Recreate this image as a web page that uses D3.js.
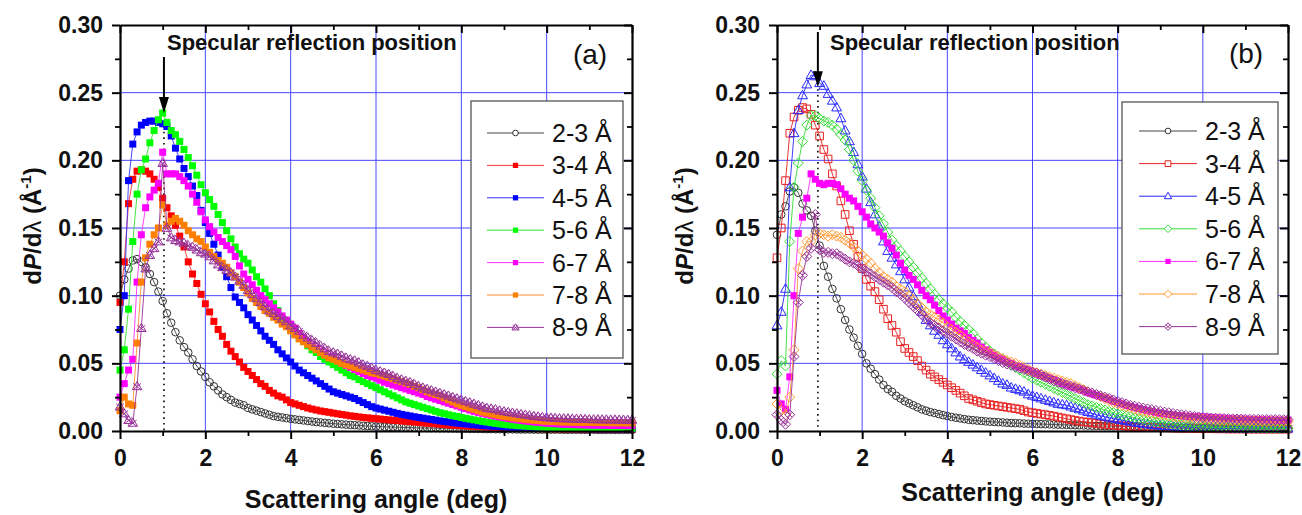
<!DOCTYPE html>
<html><head><meta charset="utf-8">
<script src="https://cdn.jsdelivr.net/npm/d3@7"></script>
<style>
body{margin:0;background:#fff;}
svg{display:block;}
text{font-family:Arial,"Liberation Sans",sans-serif;}
</style>
</head><body>
<svg id="chart" width="1302" height="515"></svg>
<script>
// ---------------- DATA ----------------
const seriesLabels = ["2-3 Å","3-4 Å","4-5 Å","5-6 Å","6-7 Å","7-8 Å","8-9 Å"];
const xTicks = [0,2,4,6,8,10,12];
const xMinorTicks = [1,3,5,7,9,11];
const yTicks = [0,0.05,0.10,0.15,0.20,0.25,0.30];
const yMinorTicks = [0.025,0.075,0.125,0.175,0.225,0.275];
const panelTags = ["(a)","(b)"];
const annotationText = "Specular reflection position";
const specularAngle = [1.03, 0.96];
const xTitle = "Scattering angle (deg)";
// scattering angle samples (deg): 0.0, 0.1, ... 12.0
const angles = d3.range(121).map(i => Math.round(i) / 10);
// dP/dλ values in units of 1e-3 Å^-1, one per angle sample
// ---- panel (a)
const a23 = [100,112,120,126,127,125,121,116,110,103, 96,87,80,73,67,62,58,53,48,44, 40,36,33,30,27,25,23,21,20,19, 17,16,15,14,13,12,11,10.5,10,9.5,
 9,8.6,8.2,7.8,7.4,7,6.6,6.3,6,5.7, 5.4,5.2,4.9,4.7,4.5,4.3,4.1,3.9,3.7,3.5, 3.3,3.2,3.1,3,2.9,2.8,2.7,2.6,2.5,2.4, 2.3,2.2,2.2,2.1,2.1,2,2,1.9,1.9,1.8,
 1.7,1.7,1.6,1.6,1.5,1.5,1.4,1.4,1.3,1.3, 1.2,1.2,1.2,1.1,1.1,1.1,1.1,1,1,1, 1,1,1,1,0.9,0.9,0.9,0.9,0.9,0.9, 0.9,0.9,0.8,0.8,0.8,0.8,0.8,0.8,0.8,0.8,0.8];
const a34 = [95,125,168,186,192,193,192,190,186,180, 172,165,159,152,144,136,125,116,109,101, 94,88,81,75,70,64,59,55,51,47, 44,41,38,35,33,30,28,26,25,23,
 21,20,19,18,17,16.2,15.5,14.8,14.3,13.8, 13.2,12.7,12.2,11.7,11.2,10.8,10.4,10,9.7,9.4, 9.1,8.8,8.5,8.2,8,7.7,7.4,7.1,6.9,6.6, 6.3,6,5.8,5.5,5.3,5,4.8,4.5,4.3,4.1,
 3.9,3.7,3.5,3.3,3.2,3,2.9,2.7,2.6,2.5, 2.4,2.3,2.2,2.1,2,1.9,1.9,1.8,1.7,1.7, 1.6,1.6,1.5,1.5,1.4,1.4,1.4,1.3,1.3,1.3, 1.3,1.2,1.2,1.2,1.2,1.2,1.2,1.2,1.2,1.2,1.2];
const a45 = [75,100,185,212,221,226,228,229,229,228, 227,225,218,209,201,194,188,181,174,163, 154,146,138,130,121,114,106,99,95,91, 86,82,78,74,70,67,64,60,57,54,
 51,48,45,43,41,39,37,35,33,31, 29,28,27,26,25,24,22.5,21,19.5,18, 17,16.2,15.4,14.6,13.8,13,12.3,11.7,11.1,10.5, 10,9.5,9,8.5,8,7.5,7,6.6,6.2,5.8,
 5.5,5.2,4.9,4.6,4.3,4,3.8,3.6,3.4,3.2, 3,2.9,2.8,2.7,2.6,2.5,2.4,2.3,2.2,2.1, 2,2,1.9,1.9,1.8,1.8,1.8,1.7,1.7,1.7, 1.7,1.6,1.6,1.6,1.6,1.6,1.6,1.6,1.6,1.6,1.6];
const a56 = [45,60,90,140,175,193,201,213,222,230, 235,228,222,219,214,208,202,196,189,182, 176,171,166,160,154,148,142,136,131,127, 124,119,114,110,105,100,94,89,83,78,
 75,72,69,66,63,60,58,55,53,51, 49,47,45,43,41,40,38,36.5,35,33.5, 32,30.5,29,27.5,26,24.5,23,21.5,20.5,19.5, 18.5,17.5,16.5,15.5,14.5,13.5,12.8,12,11.3,10.7,
 10,9.4,8.8,8.2,7.6,7.1,6.6,6.1,5.7,5.3, 4.9,4.6,4.3,4,3.8,3.6,3.4,3.2,3,2.8, 2.7,2.6,2.5,2.4,2.3,2.3,2.2,2.2,2.1,2.1, 2,2,2,2,2,2,2,2,2,2,2];
const a67 = [25,35,45,53,110,145,165,173,178,183, 206,190,190,190,188,185,181,175,169,162, 156,151,147,143,140,137,134,129,122,116, 112,108,104,100,97,94,91,88,85,82,
 79,76,72,69,66,63,61,59,57,55, 54,52,50,48.5,47,45.5,44,42.5,41,40, 39,37.5,36,35,34,33,32,31,30,29, 28,27,25.5,24.5,23.5,22.5,21.5,20.5,19.5,18.5,
 17.5,16.5,15.5,14.5,13.7,13,12.3,11.6,11,10.4, 9.8,9.2,8.7,8.2,7.8,7.4,7,6.7,6.4,6.1, 5.8,5.6,5.4,5.2,5,4.9,4.8,4.7,4.6,4.5, 4.4,4.3,4.3,4.2,4.2,4.1,4.1,4.1,4,4,4];
const a78 = [15,25,20,19,65,110,128,138,145,150, 167,152,155,157,155,152,148,145,142,140, 136,132,129,126,124,121,117,114,110,106, 102,98,95,92,89,87,84,82,79,77,
 74,71,68,66,64,62,60,58,56,54, 53,51.5,50,49,48,47,46,45,44,43, 42.5,41.5,40.5,39.5,38.5,37.5,36.5,35.5,34.5,33, 32,30.5,29,28,27,26,24.5,23,21.5,20,
 19,18,17,16,15,14,13.3,12.6,12,11.4, 10.8,10.3,9.8,9.4,9,8.6,8.3,8,7.7,7.4, 7.2,7,6.9,6.8,6.7,6.6,6.5,6.5,6.4,6.4, 6.3,6.3,6.2,6.2,6.2,6.1,6.1,6.1,6,6,6];
const a89 = [18,13,8,6,33,76,120,130,135,140, 198,150,143,141,140,139,137,136,134,132, 131,129,126,123,121,119,117,114,111,108, 104,101,98,95,92,89,87,85,83,81,
 78,76,74,71,69,67,65,63,61,59, 58,57,55.5,54,53,52,50.5,49,48,46.5, 45,44,43,42,40.5,39,38,37,36,34.5, 33,32,31,30,29,28,27,26,25,24,
 23,22,21,20,19,18,17,16.5,16,15, 14.5,14,13.5,13,12.5,12,11.5,11,10.7,10.3, 10,9.8,9.6,9.4,9.3,9.2,9.1,9,8.9,8.8, 8.7,8.6,8.6,8.5,8.5,8.4,8.4,8.3,8.3,8.2,8.2];
// ---- panel (b)
const b23 = [145,160,166,177,180,176,168,163,159,148, 137,122,114,105,98,90,82,75,69,63, 57,50,46,42,38,34,31,29,26,24, 22,20.5,19,17.5,16,15,14,13.3,12.5,11.7,
 11,10.4,9.8,9.3,8.8,8.3,8,7.7,7.4,7.1, 6.9,6.7,6.5,6.3,6.1,5.9,5.8,5.7,5.5,5.4, 5.3,5.2,5.1,5,4.9,4.8,4.7,4.6,4.5,4.4, 4.3,4.2,4.1,4,3.9,3.8,3.7,3.6,3.6,3.5,
 3.5,3.4,3.3,3.3,3.2,3.1,3.1,3,3,2.9, 2.8,2.8,2.7,2.6,2.6,2.5,2.4,2.4,2.3,2.2, 2.1,2.1,2,2,1.9,1.9,1.8,1.8,1.7,1.7, 1.7,1.6,1.6,1.6,1.5,1.5,1.5,1.5,1.5,1.5,1.5];
const b34 = [128,150,185,220,232,237,239,238,234,226, 218,208,201,190,181,170,160,148,138,129, 120,112,107,103,97,90,83,78,73,66, 61,58,55,52,48,45,42,40,38,36,
 34,32,30,28,26,24,23,22,21,20, 19.5,19,18.5,18,17.5,17,16.5,16,15,14, 13.5,13,12.5,12,11.5,11,10.3,9.6,9,8.4, 7.8,7.3,6.8,6.4,6,5.6,5.2,4.9,4.6,4.3,
 4,3.8,3.6,3.4,3.2,3,2.9,2.8,2.7,2.6, 2.5,2.4,2.3,2.2,2.1,2,2,1.9,1.9,1.8, 1.8,1.7,1.7,1.6,1.6,1.6,1.5,1.5,1.5,1.5, 1.5,1.4,1.4,1.4,1.4,1.4,1.4,1.4,1.4,1.4,1.4];
const b45 = [78,88,105,180,220,237,248,256,263,262, 257,255,249,244,239,231,222,214,206,197, 188,179,169,160,151,140,133,128,123,118, 112,106,99.5,94,88,82,78,74,71,67,
 64,61,58,55,53,51,49,47,45,43, 41,39,37,35,34,32,31,30,29,27, 26,25,24,23,22,21,20,19.5,19,18, 17,16,15,14,13,12,11.2,10.5,9.8,9.2,
 8.6,8,7.4,6.8,6.3,5.8,5.3,4.9,4.5,4.2, 3.9,3.7,3.5,3.3,3.1,3,2.8,2.7,2.5,2.4, 2.3,2.2,2.1,2,2,1.9,1.9,1.8,1.8,1.8, 1.7,1.7,1.7,1.7,1.7,1.7,1.7,1.7,1.7,1.7,1.7];
const b56 = [42,52,48,140,180,198,214,226,233,233, 231,229,228,226,223,219,215,208,200,192, 185,178,172,165,159,153,147,141,137,133, 129,125,121,117,113,109,105,101,97,94,
 91,88,84,81,78,75,72,68,65,62, 59,57,55,53,51,49,47,45,43,41, 39,37.5,36,34.5,33,31.5,30,28.5,27,25.5, 24,22.5,21,19.5,18.5,17.5,16.5,15.5,14.5,13.5,
 12.8,12,11.2,10.5,9.8,9.1,8.5,7.9,7.3,6.8, 6.3,5.9,5.5,5.1,4.7,4.4,4.1,3.8,3.5,3.3, 3.1,3,2.9,2.8,2.7,2.6,2.5,2.5,2.4,2.4, 2.3,2.3,2.2,2.2,2.2,2.1,2.1,2.1,2,2,2];
const b67 = [30,20,16,40,100,146,158,172,190,186, 183,182,183,183,182,179,175,172,170,166, 162,158,153,150,147,144,139,135,130,124, 119,115,112,108,104,100,97,93,89,85,
 82,79,76,74,72,69,67,65,62,60, 58,56,54,53,51,50,48,47,46,45, 44,42.5,41,40,39,38,36.5,35,34,33, 32,31,30,28.5,27.5,26.5,25.5,24.5,23.5,22,
 21,20,19,18.2,17.4,16.6,15.8,15,14.3,13.6, 13,12.6,12.2,11.8,11.5,11.2,11,10.8,10.6,10.5, 10.4,10.2,10,9.8,9.6,9.4,9.2,9,8.9,8.8, 8.7,8.6,8.5,8.4,8.3,8.2,8.1,8,8,8,8];
const b78 = [20,15,12,25,60,120,133,140,140,145, 146,145,144,145,144,143,141,139,136,133, 130,127,124,120,117,114,112,110,107,105, 103,100,97,94,91,88,86,84,82,80,
 77,75,73,71,68,66,64,62,60,59, 58,56.5,55,53.5,52,51,50,48.5,47,45.5, 44,43,42,41,40,39,38,37,36,35, 33.5,32,30.5,29,28,27,25.5,24,22.5,21,
 20,19,18,17,16,15,14.3,13.6,13,12.5, 12,11.5,11,10.6,10.2,9.9,9.6,9.4,9.2,9, 8.8,8.6,8.4,8.2,8,7.9,7.8,7.7,7.6,7.5, 7.4,7.3,7.3,7.2,7.2,7.1,7.1,7,7,7,7];
const b89 = [12,8,5,12,55,95,115,129,135,160, 134,132,132,131,131,129,127,125,124,122, 120,118,116,114,112,110,108,106,103,101, 98,95,92,89,86,83,80,78,76,74,
 72,70,68,66,64,62.5,61,59,57.5,56, 55,53.5,52,50.5,49.5,48.5,47.5,46.5,45.5,44.5, 43.5,42.5,41.5,40,38.5,37,36,35,34,33, 32,31,30,29,28,27,26,25,24,23,
 22,21,20,19,18.3,17.6,17,16.4,15.8,15.2, 14.6,14,13.5,13,12.5,12,11.6,11.2,10.8,10.4, 10,9.8,9.6,9.4,9.3,9.2,9.1,9,8.9,8.8, 8.7,8.7,8.6,8.6,8.5,8.5,8.5,8.4,8.4,8.4,8.4];
const UNIT = 1e-3;

// ---------------- STYLE / LAYOUT ----------------
const stylesA = [
  {shape:"circle", stroke:"#333", fill:"none", line:"#444"},
  {shape:"square", stroke:"none", fill:"#ff0000", line:"#ff3030"},
  {shape:"square", stroke:"none", fill:"#0000ff", line:"#3030ff"},
  {shape:"square", stroke:"none", fill:"#00ff00", line:"#30e030"},
  {shape:"square", stroke:"none", fill:"#ff00ff", line:"#ff30ff"},
  {shape:"square", stroke:"none", fill:"#ff8000", line:"#ff9030"},
  {shape:"xtri", stroke:"#993399", fill:"none", line:"#993399"}
];
const stylesB = [
  {shape:"circle", stroke:"#333", fill:"none", line:"#444"},
  {shape:"osquare", stroke:"#e82020", fill:"none", line:"#e82020"},
  {shape:"triangle", stroke:"#2828ff", fill:"none", line:"#2828ff"},
  {shape:"diamond", stroke:"#33dd33", fill:"none", line:"#33dd33"},
  {shape:"square", stroke:"none", fill:"#ff00ff", line:"#ff30ff"},
  {shape:"diamond", stroke:"#ff9933", fill:"none", line:"#ff9933"},
  {shape:"xdiamond", stroke:"#993399", fill:"none", line:"#993399"}
];

const panels = [
  {left:120, right:632, top:25, bottom:431, series:[a23,a34,a45,a56,a67,a78,a89], styles:stylesA,
   legend:{x:471, y:101, w:152, h:257, l0:487, l1:544, tx:552, r0:133, dr:32.4},
   arrowTop:57, arrowTip:0.235, noteX:167, tagX:590, tagY:64, yLabX:41, xLabY:508},
  {left:777, right:1288, top:25, bottom:431, series:[b23,b34,b45,b56,b67,b78,b89], styles:stylesB,
   legend:{x:1122, y:102, w:156, h:252, l0:1139, l1:1197, tx:1205, r0:131, dr:32.6},
   arrowTop:32, arrowTip:0.254, noteX:830, tagX:1246, tagY:63, yLabX:693, xLabY:501}
];

function markerPath(shape, k) {
  k = k || 1;
  const p = d3.path();
  if (shape === "circle") { const r = 3.8*k; p.moveTo(r,0); p.arc(0,0,r,0,2*Math.PI); }
  else if (shape === "square") { const h = 3.5*k; p.rect(-h,-h,2*h,2*h); }
  else if (shape === "osquare") { const h = 3.8*k; p.rect(-h,-h,2*h,2*h); }
  else if (shape === "triangle") { const s = 5.2*k; p.moveTo(0,-s); p.lineTo(s*0.95,s*0.65); p.lineTo(-s*0.95,s*0.65); p.closePath(); }
  else if (shape === "diamond") { const s = 5*k; p.moveTo(0,-s); p.lineTo(s,0); p.lineTo(0,s); p.lineTo(-s,0); p.closePath(); }
  else if (shape === "xtri") { const s = 4.8*k; p.moveTo(0,-s); p.lineTo(s,s*0.7); p.lineTo(-s,s*0.7); p.closePath();
    p.moveTo(-s*0.8,-s*0.6); p.lineTo(s*0.8,s*0.7); p.moveTo(s*0.8,-s*0.6); p.lineTo(-s*0.8,s*0.7); }
  else if (shape === "xdiamond") { const s = 5*k; p.moveTo(0,-s); p.lineTo(s,0); p.lineTo(0,s); p.lineTo(-s,0); p.closePath();
    p.moveTo(-s/2,-s/2); p.lineTo(s/2,s/2); p.moveTo(s/2,-s/2); p.lineTo(-s/2,s/2); }
  return p.toString();
}

const svg = d3.select("#chart");
const FONT_TICK = 23;

panels.forEach((P, pi) => {
  const x = d3.scaleLinear().domain([0,12]).range([P.left, P.right]);
  const y = d3.scaleLinear().domain([0,0.30]).range([P.bottom, P.top]);
  const g = svg.append("g");

  // grid
  const grid = g.append("g").attr("stroke","#4848ff").attr("stroke-width",1);
  xTicks.filter(t => t>0 && t<12).forEach(t => grid.append("line").attr("x1",x(t)).attr("x2",x(t)).attr("y1",P.top).attr("y2",P.bottom));
  yTicks.filter(t => t>0 && t<0.3).forEach(t => grid.append("line").attr("x1",P.left).attr("x2",P.right).attr("y1",y(t)).attr("y2",y(t)));

  // dotted specular line
  const ax = x(specularAngle[pi]);
  g.append("line").attr("x1",ax).attr("x2",ax).attr("y1",y(P.arrowTip)+2).attr("y2",P.bottom)
    .attr("stroke","#000").attr("stroke-width",1.6).attr("stroke-dasharray","1.6,4");

  // series
  P.series.forEach((vals, si) => {
    const st = P.styles[si];
    const pts = angles.map((a,i) => [a, vals[i]*UNIT]);
    const sg = g.append("g");
    sg.append("path").attr("d", d3.line().x(d=>x(d[0])).y(d=>y(d[1]))(pts))
      .attr("fill","none").attr("stroke",st.line).attr("stroke-width",0.9);
    const mp = markerPath(st.shape);
    sg.selectAll("path.m").data(pts).join("path").attr("class","m")
      .attr("d", mp).attr("transform", d => `translate(${x(d[0])},${y(d[1])})`)
      .attr("fill", st.fill).attr("stroke", st.stroke === "none" ? null : st.stroke).attr("stroke-width",1);
  });

  // legend
  const L = P.legend;
  const lg = g.append("g");
  lg.append("rect").attr("x",L.x).attr("y",L.y).attr("width",L.w).attr("height",L.h)
    .attr("fill","#fff").attr("stroke","#555").attr("stroke-width",1.3);
  seriesLabels.forEach((lab, si) => {
    const st = P.styles[si];
    const yy = L.r0 + si*L.dr;
    lg.append("line").attr("x1",L.l0).attr("x2",L.l1).attr("y1",yy).attr("y2",yy).attr("stroke",st.line).attr("stroke-width",1);
    lg.append("path").attr("d", markerPath(st.shape, 0.75)).attr("transform",`translate(${(L.l0+L.l1)/2},${yy})`)
      .attr("fill", st.fill === "none" ? "#fff" : st.fill).attr("stroke", st.stroke === "none" ? null : st.stroke).attr("stroke-width",1);
    lg.append("text").attr("x",L.tx).attr("y",yy+9).attr("font-size",25).attr("fill","#111").text(lab);
  });

  // axes
  const styleAxis = sel => { sel.selectAll("path.domain").attr("stroke","#000").attr("stroke-width",2.2);
    sel.selectAll(".tick line").attr("stroke","#000").attr("stroke-width",2);
    sel.selectAll("text").attr("font-size",FONT_TICK).attr("font-weight","bold").attr("fill","#111")
      .attr("font-family",'Arial,"Liberation Sans",sans-serif'); };
  const minorStyle = sel => { sel.select("path.domain").remove(); sel.selectAll(".tick line").attr("stroke","#000").attr("stroke-width",1.8); };

  g.append("g").attr("transform",`translate(0,${P.bottom})`)
    .call(d3.axisBottom(x).tickValues(xTicks).tickSize(8).tickSizeOuter(0).tickPadding(11).tickFormat(d3.format("d"))).call(styleAxis);
  g.append("g").attr("transform",`translate(0,${P.bottom})`)
    .call(d3.axisBottom(x).tickValues(xMinorTicks).tickSize(5).tickFormat("")).call(minorStyle);
  g.append("g").attr("transform",`translate(0,${P.top})`)
    .call(d3.axisTop(x).tickValues(xTicks).tickSize(-8).tickSizeOuter(0).tickFormat("")).call(styleAxis);
  g.append("g").attr("transform",`translate(0,${P.top})`)
    .call(d3.axisTop(x).tickValues(xMinorTicks).tickSize(-5).tickFormat("")).call(minorStyle);
  g.append("g").attr("transform",`translate(${P.left},0)`)
    .call(d3.axisLeft(y).tickValues(yTicks).tickSize(8).tickSizeOuter(0).tickPadding(9).tickFormat(d3.format(".2f"))).call(styleAxis);
  g.append("g").attr("transform",`translate(${P.left},0)`)
    .call(d3.axisLeft(y).tickValues(yMinorTicks).tickSize(5).tickFormat("")).call(minorStyle);
  g.append("g").attr("transform",`translate(${P.right},0)`)
    .call(d3.axisRight(y).tickValues(yTicks).tickSize(-8).tickSizeOuter(0).tickFormat("")).call(styleAxis);
  g.append("g").attr("transform",`translate(${P.right},0)`)
    .call(d3.axisRight(y).tickValues(yMinorTicks).tickSize(-5).tickFormat("")).call(minorStyle);

  // arrow
  const tipY = y(P.arrowTip);
  g.append("line").attr("x1",ax).attr("x2",ax).attr("y1",P.arrowTop).attr("y2",tipY-12).attr("stroke","#000").attr("stroke-width",2);
  g.append("path").attr("d",`M${ax-5},${tipY-16} L${ax+5},${tipY-16} L${ax},${tipY} Z`).attr("fill","#000");

  // annotation + tag
  g.append("text").attr("x",P.noteX).attr("y",50).attr("font-size",22).attr("font-weight","bold").attr("fill","#111").text(annotationText);
  g.append("text").attr("x",P.tagX).attr("y",P.tagY).attr("text-anchor","middle").attr("font-size",28).attr("fill","#111").text(panelTags[pi]);

  // axis titles
  g.append("text").attr("x",(P.left+P.right)/2).attr("y",P.xLabY).attr("text-anchor","middle")
    .attr("font-size",25).attr("font-weight","bold").attr("fill","#111").text(xTitle);
  const yl = g.append("text").attr("transform",`translate(${P.yLabX},226) rotate(-90)`).attr("text-anchor","middle")
    .attr("font-size",24).attr("font-weight","bold").attr("fill","#111");
  yl.append("tspan").text("d");
  yl.append("tspan").attr("font-style","italic").text("P");
  yl.append("tspan").text("/d");
  yl.append("tspan").attr("font-weight","normal").text("λ");
  yl.append("tspan").text(" (Å");
  yl.append("tspan").attr("font-size",15).attr("dy",-10).text("-1");
  yl.append("tspan").attr("dy",10).text(")");
});
</script>
</body></html>
